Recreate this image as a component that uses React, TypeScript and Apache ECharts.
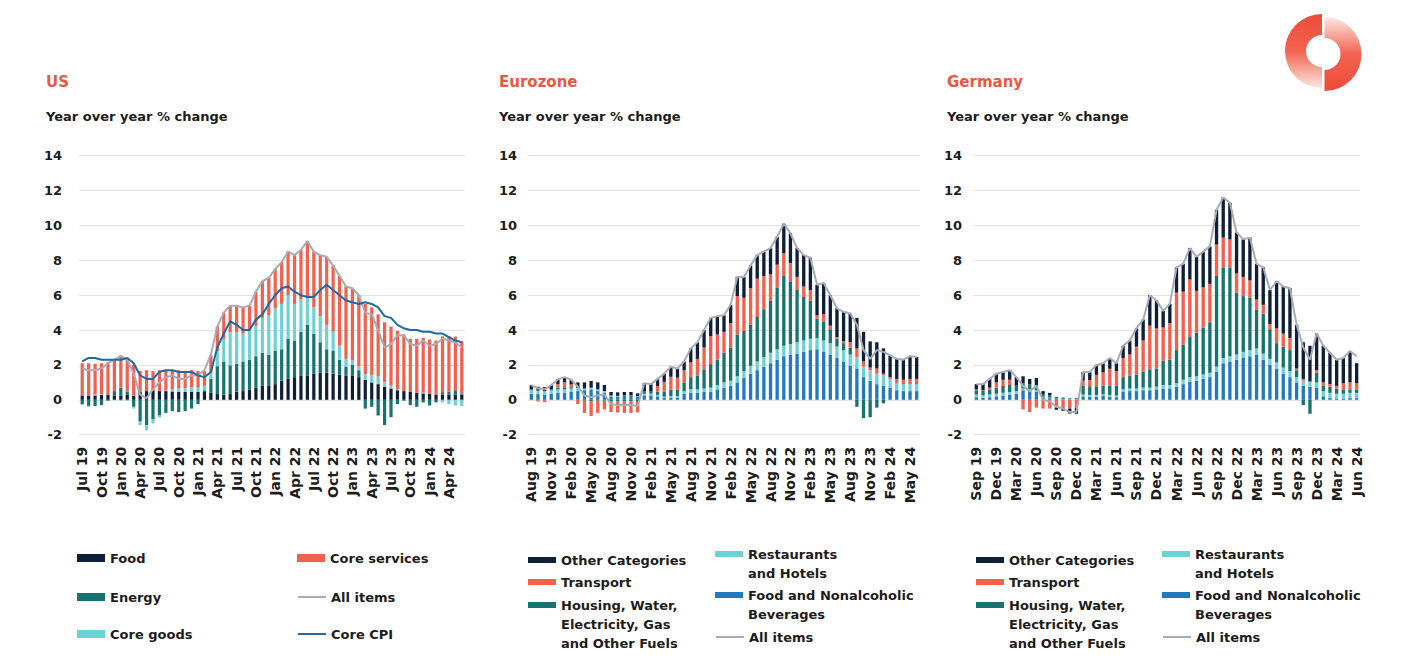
import React, { useEffect, useRef } from "react";
import * as echarts from "echarts";

// ---------- categories ----------
const US_MONTHS = [
  "Jul 19","Aug 19","Sep 19","Oct 19","Nov 19","Dec 19",
  "Jan 20","Feb 20","Mar 20","Apr 20","May 20","Jun 20","Jul 20","Aug 20","Sep 20","Oct 20","Nov 20","Dec 20",
  "Jan 21","Feb 21","Mar 21","Apr 21","May 21","Jun 21","Jul 21","Aug 21","Sep 21","Oct 21","Nov 21","Dec 21",
  "Jan 22","Feb 22","Mar 22","Apr 22","May 22","Jun 22","Jul 22","Aug 22","Sep 22","Oct 22","Nov 22","Dec 22",
  "Jan 23","Feb 23","Mar 23","Apr 23","May 23","Jun 23","Jul 23","Aug 23","Sep 23","Oct 23","Nov 23","Dec 23",
  "Jan 24","Feb 24","Mar 24","Apr 24","May 24","Jun 24",
];
const EZ_MONTHS = US_MONTHS.slice(1);
const DE_MONTHS = US_MONTHS.slice(2);
const Y_MIN = -2;
const Y_MAX = 14;
const Y_STEP = 2;

// ---------- US (Jul 19 - Jun 24) ----------
const US_FOOD = [0.25,0.24,0.25,0.28,0.28,0.25,0.25,0.28,0.24,0.45,0.5,0.55,0.5,0.5,0.48,0.45,0.45,0.45,0.45,0.45,0.4,0.33,0.3,0.33,0.47,0.5,0.6,0.7,0.8,0.8,0.9,1.1,1.2,1.3,1.4,1.4,1.5,1.55,1.55,1.5,1.45,1.4,1.4,1.3,1.15,1.0,0.9,0.75,0.65,0.55,0.5,0.45,0.4,0.37,0.35,0.3,0.3,0.3,0.3,0.3];
const US_ENERGY = [-0.25,-0.35,-0.36,-0.3,-0.05,0.25,0.45,0.2,-0.4,-1.25,-1.45,-1.1,-0.9,-0.75,-0.65,-0.7,-0.65,-0.5,-0.25,0.1,0.8,1.6,1.9,1.65,1.6,1.7,1.7,1.8,1.9,1.8,1.9,1.8,2.3,2.1,2.5,2.9,2.3,1.75,1.35,1.3,0.85,0.5,0.6,0.4,-0.5,-0.4,-0.9,-1.45,-1.0,-0.25,-0.05,-0.3,-0.4,-0.15,-0.3,-0.13,0.14,0.18,0.25,0.07];
const US_GOODS = [-0.05,-0.05,0.05,0.05,0.0,-0.02,-0.05,-0.05,-0.1,-0.2,-0.3,-0.25,-0.1,0.05,0.12,0.2,0.22,0.25,0.25,0.25,0.35,0.85,1.3,1.9,1.8,1.6,1.7,1.75,2.0,2.25,2.45,2.6,2.5,2.1,1.85,1.55,1.5,1.5,1.4,1.1,0.8,0.45,0.28,0.22,0.32,0.43,0.43,0.28,0.17,0.04,0.0,0.0,0.0,0.04,-0.06,-0.07,-0.14,-0.25,-0.33,-0.35];
const US_SERVICES = [1.85,1.86,1.76,1.77,1.87,1.82,1.85,1.87,1.76,1.2,1.2,1.1,1.2,1.15,1.1,1.05,1.0,1.0,0.95,0.85,1.0,1.42,1.5,1.52,1.53,1.5,1.4,1.95,2.1,2.15,2.25,2.4,2.5,2.8,2.85,3.25,3.2,3.5,3.9,3.8,4.0,4.15,4.12,4.08,4.03,3.87,3.57,3.42,3.38,3.36,3.25,3.05,3.1,3.14,3.11,3.1,3.2,3.17,3.08,2.98];
const US_ALL = [1.8,1.7,1.7,1.8,2.1,2.3,2.5,2.3,1.5,0.3,0.1,0.6,1.0,1.3,1.4,1.2,1.2,1.4,1.4,1.7,2.6,4.2,5.0,5.4,5.4,5.3,5.4,6.2,6.8,7.0,7.5,7.9,8.5,8.3,8.6,9.1,8.5,8.3,8.2,7.7,7.1,6.5,6.4,6.0,5.0,4.9,4.0,3.0,3.2,3.7,3.7,3.2,3.1,3.4,3.1,3.2,3.5,3.4,3.3,3.0];
const US_CORE = [2.2,2.4,2.4,2.3,2.3,2.3,2.3,2.4,2.1,1.4,1.2,1.2,1.6,1.7,1.7,1.6,1.6,1.6,1.4,1.3,1.6,3.0,3.8,4.5,4.3,4.0,4.0,4.6,4.9,5.5,6.0,6.4,6.5,6.2,6.0,5.9,5.9,6.3,6.6,6.3,6.0,5.7,5.6,5.5,5.6,5.5,5.3,4.8,4.7,4.3,4.1,4.0,4.0,3.9,3.9,3.8,3.8,3.6,3.4,3.3];

// ---------- Eurozone (Aug 19 - Jun 24) ----------
const EZ_FOOD = [0.35,0.33,0.3,0.35,0.4,0.4,0.45,0.5,0.55,0.6,0.5,0.4,0.2,0.2,0.22,0.22,0.2,0.25,0.25,0.2,0.1,0.12,0.12,0.35,0.4,0.4,0.45,0.45,0.6,0.7,0.8,1.0,1.25,1.5,1.7,1.9,2.1,2.3,2.5,2.6,2.65,2.75,2.85,2.9,2.75,2.6,2.4,2.2,1.95,1.8,1.3,1.1,0.9,0.8,0.7,0.55,0.5,0.5,0.5];
const EZ_REST = [0.2,0.2,0.2,0.2,0.2,0.2,0.2,0.18,0.1,0.1,0.1,0.1,0.05,0.03,0.03,0.03,0.02,0.1,0.1,0.08,0.08,0.1,0.1,0.15,0.2,0.2,0.2,0.25,0.25,0.3,0.3,0.35,0.4,0.45,0.5,0.55,0.6,0.6,0.6,0.6,0.65,0.65,0.65,0.65,0.65,0.65,0.65,0.65,0.65,0.65,0.6,0.6,0.6,0.6,0.5,0.4,0.4,0.4,0.4];
const EZ_HOUSING = [0.05,-0.02,-0.03,0.05,0.1,0.12,0.08,0.0,-0.05,-0.08,-0.05,-0.05,-0.1,-0.1,-0.1,-0.1,-0.12,0.15,0.15,0.2,0.3,0.35,0.35,0.5,0.7,0.8,1.1,1.35,1.45,1.7,1.9,2.4,2.3,2.35,2.55,2.75,3.0,3.55,4.0,3.6,3.0,2.5,2.2,1.1,1.1,0.8,0.45,0.4,0.4,-0.4,-1.05,-1.0,-0.45,-0.2,0.0,0.05,0.05,0.05,0.05];
const EZ_TRANSPORT = [0.0,-0.08,-0.1,0.0,0.2,0.28,0.15,-0.25,-0.7,-0.85,-0.7,-0.5,-0.6,-0.63,-0.65,-0.65,-0.6,0.0,0.0,0.3,0.55,0.75,0.7,0.7,0.85,0.95,1.25,1.6,1.45,1.2,1.4,2.2,1.9,2.1,2.2,1.9,1.5,1.3,1.3,1.05,0.75,0.6,0.6,0.2,0.4,0.2,0.1,0.1,0.3,0.5,0.3,0.15,0.3,0.1,0.1,0.2,0.2,0.25,0.25];
const EZ_OTHER = [0.24,0.22,0.23,0.25,0.27,0.3,0.27,0.32,0.35,0.38,0.4,0.35,0.2,0.2,0.2,0.2,0.15,0.45,0.4,0.42,0.47,0.58,0.53,0.5,0.8,0.95,1.0,1.05,1.05,0.95,1.05,1.1,1.2,1.3,1.35,1.4,1.5,1.6,1.7,1.7,1.65,1.8,1.85,1.75,1.8,1.75,1.65,1.7,1.65,1.75,1.7,1.5,1.5,1.45,1.25,1.15,1.15,1.3,1.25];
const EZ_ALL = [0.84,0.65,0.6,0.85,1.17,1.3,1.15,0.75,0.25,0.15,0.25,0.3,-0.25,-0.3,-0.3,-0.3,-0.35,0.95,0.9,1.2,1.5,1.9,1.8,2.2,2.95,3.3,4.0,4.7,4.8,4.85,5.45,7.05,7.05,7.7,8.3,8.5,8.7,9.35,10.1,9.55,8.7,8.3,8.15,6.6,6.7,6.0,5.25,5.05,4.95,4.3,2.85,2.35,2.85,2.75,2.55,2.35,2.3,2.5,2.45];

// ---------- Germany (Sep 19 - Jun 24) ----------
const DE_FOOD = [0.15,0.12,0.15,0.2,0.25,0.3,0.35,0.55,0.5,0.45,0.15,0.1,0.05,0.03,0.02,0.02,0.2,0.18,0.18,0.22,0.18,0.15,0.45,0.5,0.5,0.55,0.55,0.6,0.65,0.65,0.75,0.9,1.05,1.1,1.2,1.3,1.6,2.1,2.2,2.3,2.4,2.5,2.6,2.3,2.0,1.8,1.5,1.3,1.0,0.8,0.75,0.7,0.2,0.1,0.05,0.05,0.1,0.1];
const DE_REST = [0.15,0.15,0.15,0.15,0.15,0.15,0.15,0.1,0.1,0.1,0.03,0.03,0.02,0.02,0.02,0.02,0.1,0.1,0.1,0.1,0.1,0.1,0.15,0.15,0.15,0.15,0.15,0.15,0.2,0.2,0.2,0.25,0.25,0.25,0.25,0.25,0.3,0.3,0.3,0.3,0.35,0.35,0.35,0.35,0.35,0.35,0.35,0.35,0.3,0.3,0.3,0.3,0.3,0.3,0.3,0.3,0.3,0.3];
const DE_HOUSING = [0.25,0.25,0.3,0.35,0.4,0.4,0.35,0.3,0.3,0.3,0.15,0.12,0.1,0.08,0.05,0.06,0.5,0.5,0.5,0.5,0.55,0.55,0.7,0.75,0.8,0.9,1.05,1.05,1.4,1.45,1.9,2.0,2.3,2.5,2.7,2.9,5.2,5.2,5.1,3.55,3.2,3.0,2.2,2.3,1.7,1.1,1.2,1.2,0.4,-0.3,-0.8,0.55,0.3,0.35,0.3,0.25,0.2,0.2];
const DE_TRANSPORT = [0.05,0.03,0.1,0.3,0.35,0.3,0.0,-0.55,-0.7,-0.45,-0.5,-0.5,-0.45,-0.45,-0.5,-0.45,0.3,0.35,0.65,0.75,0.95,0.85,1.1,1.2,1.6,1.8,2.5,2.3,1.9,2.1,3.3,3.05,3.3,2.4,2.3,2.2,1.8,1.7,1.6,1.1,1.1,1.0,0.6,0.5,0.3,0.85,0.75,0.7,0.1,0.1,0.0,0.15,0.2,0.15,0.15,0.35,0.4,0.35];
const DE_OTHER = [0.3,0.35,0.5,0.5,0.45,0.55,0.45,0.4,0.3,0.4,0.17,0.15,-0.12,-0.18,-0.29,-0.35,0.5,0.47,0.57,0.53,0.62,0.45,0.7,0.8,1.05,1.2,1.75,1.6,0.95,1.1,1.45,1.6,1.8,1.95,2.05,2.15,2.0,2.3,2.1,2.35,2.15,2.45,2.05,2.15,1.95,2.7,2.7,2.85,2.5,2.1,2.05,2.1,2.1,1.8,1.5,1.45,1.8,1.15];
const DE_ALL = [0.9,0.9,1.2,1.5,1.6,1.7,1.3,0.8,0.5,0.8,0.0,-0.1,-0.4,-0.5,-0.7,-0.7,1.6,1.6,2.0,2.1,2.4,2.1,3.1,3.4,4.1,4.6,6.0,5.7,5.1,5.5,7.6,7.8,8.7,8.2,8.5,8.8,10.9,11.6,11.3,9.6,9.2,9.3,7.8,7.6,6.3,6.8,6.5,6.4,4.3,3.0,2.3,3.8,3.1,2.7,2.3,2.4,2.8,2.5];

// ---------- styling ----------
const FONT = "'DejaVu Sans', 'Liberation Sans', sans-serif";
const TEXT = "#1c1c1c";
const NAVY = "#0E1E3B";
const TEAL = "#17736F";
const CYAN = "#6DD2D6";
const CORAL = "#F1614C";
const BLUE = "#2179C0";
const GRAY = "#A9ABB7";
const CORE_BLUE = "#1E6AA6";
const LH = 19;

type Bar = { name: string; data: number[]; color: string };
type Line = { name: string; data: number[]; color: string; z: number };
type Leg = { name: string; x: number; y: number; text?: string[]; line?: boolean };

const HOUSING = "Housing, Water, Electricity, Gas and Other Fuels";
const REST = "Restaurants and Hotels";
const FOODBEV = "Food and Nonalcoholic Beverages";

function ezLegend(c1: number, c2: number): Leg[] {
  return [
    { name: "Other Categories", x: c1, y: 560 },
    { name: "Transport", x: c1, y: 582 },
    { name: HOUSING, x: c1, y: 605, text: ["Housing, Water,", "Electricity, Gas", "and Other Fuels"] },
    { name: REST, x: c2, y: 554, text: ["Restaurants", "and Hotels"] },
    { name: FOODBEV, x: c2, y: 595, text: ["Food and Nonalcoholic", "Beverages"] },
    { name: "All items", x: c2, y: 637, line: true },
  ];
}

const PANELS = [
  {
    key: "us", title: "US", titleX: 46, gridLeft: 79, gridWidth: 386, labelMargin: 17, months: US_MONTHS,
    bars: [
      { name: "Food", data: US_FOOD, color: NAVY },
      { name: "Energy", data: US_ENERGY, color: TEAL },
      { name: "Core goods", data: US_GOODS, color: CYAN },
      { name: "Core services", data: US_SERVICES, color: CORAL },
    ] as Bar[],
    lines: [
      { name: "All items", data: US_ALL, color: GRAY, z: 4 },
      { name: "Core CPI", data: US_CORE, color: CORE_BLUE, z: 5 },
    ] as Line[],
    iconW: 28, iconH: 8,
    legend: [
      { name: "Food", x: 77, y: 558 },
      { name: "Energy", x: 77, y: 597 },
      { name: "Core goods", x: 77, y: 634 },
      { name: "Core services", x: 297, y: 558 },
      { name: "All items", x: 297, y: 597, line: true },
      { name: "Core CPI", x: 297, y: 634, line: true },
    ] as Leg[],
  },
  {
    key: "ez", title: "Eurozone", titleX: 499, gridLeft: 528, gridWidth: 392, labelMargin: 11, months: EZ_MONTHS,
    bars: [
      { name: FOODBEV, data: EZ_FOOD, color: BLUE },
      { name: REST, data: EZ_REST, color: CYAN },
      { name: HOUSING, data: EZ_HOUSING, color: TEAL },
      { name: "Transport", data: EZ_TRANSPORT, color: CORAL },
      { name: "Other Categories", data: EZ_OTHER, color: NAVY },
    ] as Bar[],
    lines: [{ name: "All items", data: EZ_ALL, color: GRAY, z: 4 }] as Line[],
    iconW: 28, iconH: 6,
    legend: ezLegend(528, 715),
  },
  {
    key: "de", title: "Germany", titleX: 947, gridLeft: 973, gridWidth: 387, labelMargin: 11, months: DE_MONTHS,
    bars: [
      { name: FOODBEV, data: DE_FOOD, color: BLUE },
      { name: REST, data: DE_REST, color: CYAN },
      { name: HOUSING, data: DE_HOUSING, color: TEAL },
      { name: "Transport", data: DE_TRANSPORT, color: CORAL },
      { name: "Other Categories", data: DE_OTHER, color: NAVY },
    ] as Bar[],
    lines: [{ name: "All items", data: DE_ALL, color: GRAY, z: 4 }] as Line[],
    iconW: 28, iconH: 6,
    legend: ezLegend(976, 1162),
  },
];

function buildOption() {
  const grid: any[] = [];
  const xAxis: any[] = [];
  const yAxis: any[] = [];
  const series: any[] = [];
  const title: any[] = [];
  const legend: any[] = [];

  PANELS.forEach((p, gi) => {
    grid.push({ left: p.gridLeft, top: 155.7, width: p.gridWidth, height: 279 });
    xAxis.push({
      type: "category",
      gridIndex: gi,
      data: p.months,
      axisLine: { show: false, onZero: false },
      axisTick: { show: false },
      splitLine: { show: false },
      axisLabel: {
        interval: 2,
        rotate: 90,
        margin: 12,
        fontFamily: FONT,
        fontSize: 14,
        fontWeight: "bold",
        color: TEXT,
      },
    });
    yAxis.push({
      type: "value",
      gridIndex: gi,
      min: Y_MIN,
      max: Y_MAX,
      interval: Y_STEP,
      axisLine: { show: false },
      axisTick: { show: false },
      splitLine: { lineStyle: { color: "#E3E3E3", width: 1 } },
      axisLabel: {
        margin: p.labelMargin,
        fontFamily: FONT,
        fontSize: 13,
        fontWeight: "bold",
        color: TEXT,
        padding: [0, 0, 10, 0],
      },
    });
    p.bars.forEach((b) => {
      series.push({
        type: "bar",
        name: b.name,
        xAxisIndex: gi,
        yAxisIndex: gi,
        stack: p.key,
        data: b.data,
        barWidth: "50%",
        itemStyle: { color: b.color },
        emphasis: { disabled: true },
        z: 2,
      });
    });
    p.lines.forEach((l) => {
      series.push({
        type: "line",
        name: l.name,
        xAxisIndex: gi,
        yAxisIndex: gi,
        data: l.data,
        symbol: "none",
        showSymbol: false,
        lineStyle: { color: l.color, width: 2 },
        itemStyle: { color: l.color },
        emphasis: { disabled: true },
        z: l.z,
      });
    });
    title.push({
      text: p.title,
      left: p.titleX,
      top: 74,
      padding: 0,
      textStyle: { color: "#EA5842", fontSize: 15, fontWeight: "bold", fontFamily: FONT },
    });
    title.push({
      text: "Year over year % change",
      left: p.titleX,
      top: 110,
      padding: 0,
      textStyle: { color: TEXT, fontSize: 13, fontWeight: "bold", fontFamily: FONT },
    });
    p.legend.forEach((it) => {
      const lines = it.text || [it.name];
      const n = lines.length;
      // leading empty lines keep the icon level with the first text line
      const label = new Array(n - 1).fill("").concat(lines).join("\n");
      const item: any = {
        data: [it.name],
        left: it.x,
        top: it.y - ((2 * n - 1) * LH) / 2,
        orient: "horizontal",
        padding: 0,
        itemGap: 0,
        itemWidth: p.iconW,
        itemHeight: it.line ? 2 : p.iconH,
        selectedMode: false,
        formatter: label,
        textStyle: {
          fontFamily: FONT,
          fontSize: 13,
          fontWeight: "bold",
          color: TEXT,
          lineHeight: LH,
        },
      };
      if (!it.line) item.icon = "rect";
      legend.push(item);
    });
  });

  const leftGrad = new echarts.graphic.LinearGradient(0, 0, 0, 1, [
    { offset: 0, color: "#EE4A39" },
    { offset: 0.5, color: "#F1634F" },
    { offset: 1, color: "#FCE6E2" },
  ]);
  const rightGrad = new echarts.graphic.LinearGradient(0, 0, 0, 1, [
    { offset: 0, color: "#FCE6E2" },
    { offset: 0.5, color: "#F1634F" },
    { offset: 1, color: "#EE4A39" },
  ]);

  return {
    animation: false,
    backgroundColor: "#ffffff",
    title,
    legend,
    grid,
    xAxis,
    yAxis,
    series,
    graphic: [
      {
        type: "sector",
        shape: { cx: 1322, cy: 51, r0: 16, r: 37, startAngle: Math.PI / 2, endAngle: (Math.PI * 3) / 2, clockwise: true },
        style: { fill: leftGrad },
        silent: true,
      },
      {
        type: "sector",
        shape: { cx: 1324.5, cy: 54, r0: 16, r: 37, startAngle: -Math.PI / 2, endAngle: Math.PI / 2, clockwise: true },
        style: { fill: rightGrad },
        silent: true,
      },
    ],
  };
}

export default function App() {
  const ref = useRef<HTMLDivElement>(null);
  useEffect(() => {
    if (!ref.current) return;
    const chart = echarts.init(ref.current, null, { renderer: "svg" });
    chart.setOption(buildOption() as any);
    return () => chart.dispose();
  }, []);
  return (
    <div
      ref={ref}
      style={{ position: "absolute", left: 0, top: 0, width: 1417, height: 672, background: "#fff" }}
    />
  );
}
